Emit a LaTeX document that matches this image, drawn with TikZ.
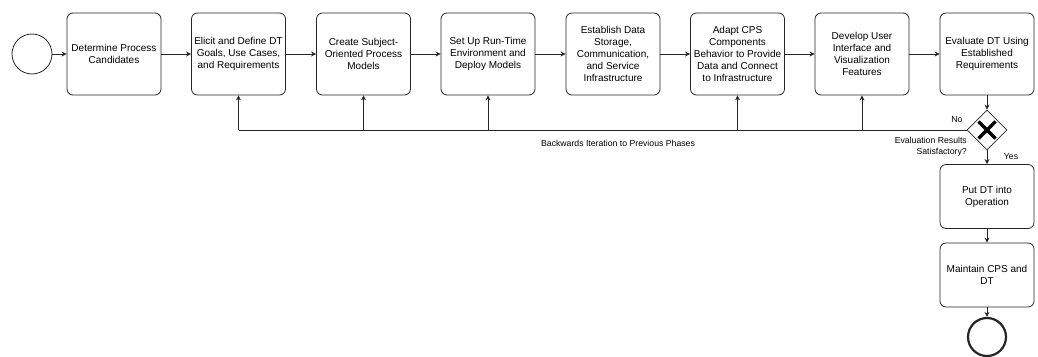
\documentclass[tikz,border=0pt]{standalone}
\usepackage{fontspec}
\setmainfont{Liberation Sans}
\usetikzlibrary{arrows.meta,shapes.geometric}
\tikzset{
  task/.style={draw=black!85, line width=0.8pt, rounded corners=6pt, minimum width=94pt, align=center, font=\fontsize{10}{12}\selectfont, inner sep=1pt},
  toprow/.style={task, minimum height=82pt},
  botrow/.style={task, minimum height=64pt},
  flow/.style={draw=black!85, line width=0.8pt, -{Stealth[length=5pt,width=5pt]}},
  evt/.style={circle, draw=black!85, minimum size=40pt, inner sep=0pt},
  lbl/.style={font=\fontsize{8.7}{11.5}\selectfont, inner sep=0pt},
}
\begin{document}
\begin{tikzpicture}[x=1pt,y=-1pt]
\useasboundingbox (0,0) rectangle (1038,356);
\node[evt, line width=0.8pt] (start) at (32,54) {};
\node[toprow] (b1) at (114,54) {Determine Process\\Candidates};
\node[toprow] (b2) at (238.5,54) {Elicit and Define DT\\Goals, Use Cases,\\and Requirements};
\node[toprow] (b3) at (363.5,54) {Create Subject-\\Oriented Process\\Models};
\node[toprow] (b4) at (488,54) {Set Up Run-Time\\Environment and\\Deploy Models};
\node[toprow] (b5) at (613,54) {Establish Data\\Storage,\\Communication,\\and Service\\Infrastructure};
\node[toprow] (b6) at (737.5,54) {Adapt CPS\\Components\\Behavior to Provide\\Data and Connect\\to Infrastructure};
\node[toprow] (b7) at (862,54) {Develop User\\Interface and\\Visualization\\Features};
\node[toprow] (b8) at (987,54) {Evaluate DT Using\\Established\\Requirements};
\node[diamond, draw=black!85, line width=0.8pt, minimum size=40pt, inner sep=0pt] (gw) at (987,130) {};
\draw[line width=3.5pt] (978.5,121.5) -- (995.5,138.5) (995.5,121.5) -- (978.5,138.5);
\node[botrow] (b9) at (987,196.5) {Put DT into\\Operation};
\node[botrow] (b10) at (987,275) {Maintain CPS and\\DT};
\node[evt, line width=2.2pt, minimum size=38pt] (end) at (987,337) {};
\draw[flow] (start) -- (b1);
\draw[flow] (b1) -- (b2);
\draw[flow] (b2) -- (b3);
\draw[flow] (b3) -- (b4);
\draw[flow] (b4) -- (b5);
\draw[flow] (b5) -- (b6);
\draw[flow] (b6) -- (b7);
\draw[flow] (b7) -- (b8);
\draw[flow] (b8) -- (gw);
\draw[flow] (gw) -- (b9);
\draw[flow] (b9) -- (b10);
\draw[flow] (b10) -- (end);
\coordinate (c2) at (b2.south |- gw.west);
\coordinate (c3) at (b3.south |- gw.west);
\coordinate (c4) at (b4.south |- gw.west);
\coordinate (c6) at (b6.south |- gw.west);
\coordinate (c7) at (b7.south |- gw.west);
\draw[draw=black!85, line width=0.8pt] (gw.west) -- (c2);
\draw[flow] (c2) -- (b2.south);
\draw[flow] (c3) -- (b3.south);
\draw[flow] (c4) -- (b4.south);
\draw[flow] (c6) -- (b6.south);
\draw[flow] (c7) -- (b7.south);
\node[lbl] (no) at (957,120) {No};
\node[lbl] (yes) at (1011,157) {Yes};
\node[lbl, align=right, anchor=east] (q) at (967,146.5) {Evaluation Results\\Satisfactory?};
\node[lbl] (back) at (618,143) {Backwards Iteration to Previous Phases};
\end{tikzpicture}
\end{document}
